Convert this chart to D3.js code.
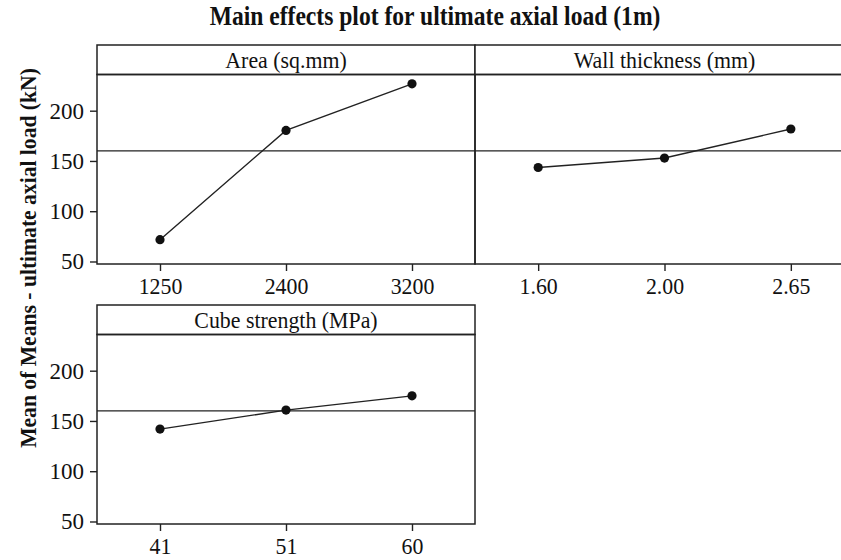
<!DOCTYPE html>
<html>
<head>
<meta charset="utf-8">
<script src="https://cdn.jsdelivr.net/npm/d3@7"></script>
<style>
  html, body { margin: 0; padding: 0; background: #fff; }
  svg { display: block; }
  text { font-family: "Liberation Serif", "Times New Roman", Times, serif; fill: #111; }
</style>
</head>
<body>
<div id="chart"></div>
<script>
// Factor levels and the mean response at each level
const areaLevels = ["1250", "2400", "3200"];
const areaMeans = [71.7, 180.4, 226.7];

const wallLevels = ["1.60", "2.00", "2.65"];
const wallMeans = [143.5, 152.9, 181.8];

const cubeLevels = ["41", "51", "60"];
const cubeMeans = [141.9, 160.8, 175.0];

const panelTitles = ["Area (sq.mm)", "Wall thickness (mm)", "Cube strength (MPa)"];
const grandMean = 160;
const yTickValues = [50, 100, 150, 200];

const chartTitle = "Main effects plot for ultimate axial load (1m)";
const yAxisTitle = "Mean of Means - ultimate axial load (kN)";

const W = 841, H = 560;
const headerH = 29.5, plotH = 189.5;
const yDomain = [47.5, 236];
const ink = "#222";
const serif = "'Liberation Serif', 'Times New Roman', serif";

const svg = d3.select("#chart").append("svg")
  .attr("width", W).attr("height", H)
  .attr("viewBox", `0 0 ${W} ${H}`);

// Chart title (slightly condensed serif)
svg.append("text")
  .attr("transform", "translate(435,25) scale(0.89,1)")
  .attr("text-anchor", "middle")
  .style("font-size", "26.5px").style("font-weight", "bold")
  .text(chartTitle);

// Shared y-axis title
svg.append("text")
  .attr("transform", "translate(28,258) rotate(-90) scale(0.9,1)")
  .attr("text-anchor", "middle")
  .attr("dy", "0.35em")
  .style("font-size", "24px").style("font-weight", "bold")
  .text(yAxisTitle);

const panels = [
  { title: panelTitles[0], levels: areaLevels, means: areaMeans, x0: 97,  x1: 475, top: 45,  showY: true },
  { title: panelTitles[1], levels: wallLevels, means: wallMeans, x0: 475, x1: 854, top: 45,  showY: false },
  { title: panelTitles[2], levels: cubeLevels, means: cubeMeans, x0: 97,  x1: 475, top: 305, showY: true }
];

panels.forEach(p => {
  const plotTop = p.top + headerH;
  const plotBottom = plotTop + plotH;

  const x = d3.scalePoint().domain(p.levels).range([p.x0, p.x1]).padding(0.5);
  const y = d3.scaleLinear().domain(yDomain).range([plotBottom, plotTop]);

  const g = svg.append("g");

  // Strip header
  g.append("rect")
    .attr("x", p.x0).attr("y", p.top)
    .attr("width", p.x1 - p.x0).attr("height", headerH)
    .attr("fill", "#fff").attr("stroke", ink).attr("stroke-width", 1.5);
  g.append("text")
    .attr("transform", `translate(${(p.x0 + p.x1) / 2},${p.top + 22.5}) scale(0.93,1)`)
    .attr("text-anchor", "middle")
    .style("font-size", "23.5px")
    .text(p.title);

  // Plot frame
  g.append("rect")
    .attr("x", p.x0).attr("y", plotTop)
    .attr("width", p.x1 - p.x0).attr("height", plotH)
    .attr("fill", "none").attr("stroke", ink).attr("stroke-width", 1.5);

  // Grand mean reference line
  g.append("line")
    .attr("x1", p.x0).attr("x2", p.x1)
    .attr("y1", y(grandMean)).attr("y2", y(grandMean))
    .attr("stroke", ink).attr("stroke-width", 1.4);

  // Level means joined by a line
  const pts = p.levels.map((lv, i) => [x(lv), y(p.means[i])]);
  g.append("path")
    .attr("d", d3.line()(pts))
    .attr("fill", "none").attr("stroke", ink).attr("stroke-width", 1.4);
  g.selectAll("circle.pt").data(pts).enter().append("circle")
    .attr("class", "pt")
    .attr("cx", d => d[0]).attr("cy", d => d[1])
    .attr("r", 4.6).attr("fill", "#111");

  // X axis
  const xAxis = g.append("g")
    .attr("transform", `translate(0,${plotBottom})`)
    .call(d3.axisBottom(x).tickSize(7).tickPadding(7));
  xAxis.select(".domain").remove();
  xAxis.selectAll("line").attr("stroke", ink).attr("stroke-width", 1.4);
  xAxis.selectAll("text")
    .style("font-size", "23px")
    .style("font-family", serif)
    .attr("fill", "#111")
    .attr("transform", "scale(0.95,1)");

  // Y axis (left column only)
  if (p.showY) {
    const yAxis = g.append("g")
      .attr("transform", `translate(${p.x0},0)`)
      .call(d3.axisLeft(y).tickValues(yTickValues).tickSize(7).tickPadding(6));
    yAxis.select(".domain").remove();
    yAxis.selectAll("line").attr("stroke", ink).attr("stroke-width", 1.4);
    yAxis.selectAll("text")
      .style("font-size", "23px")
      .style("font-family", serif)
      .attr("fill", "#111");
  }
});
</script>
</body>
</html>
